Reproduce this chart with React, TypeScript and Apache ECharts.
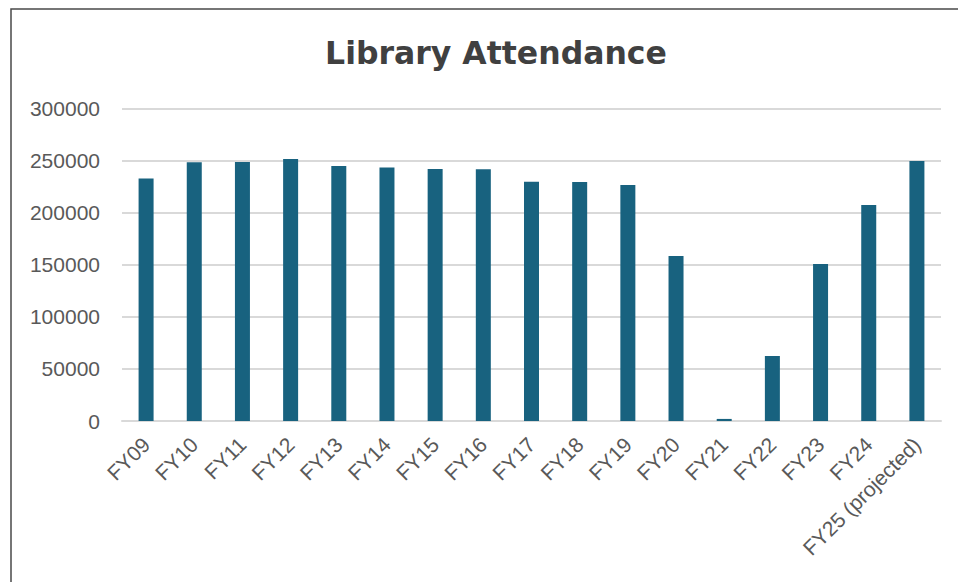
import React, { useEffect, useRef } from "react";
import * as echarts from "echarts";

const categories = [
  "FY09", "FY10", "FY11", "FY12", "FY13", "FY14", "FY15", "FY16", "FY17",
  "FY18", "FY19", "FY20", "FY21", "FY22", "FY23", "FY24", "FY25 (projected)",
];
const attendance = [
  233000, 248500, 248800, 251700, 245000, 243400, 242100, 241800, 229900,
  229600, 226700, 158500, 2000, 62400, 150800, 207500, 249800,
];
const yTicks = [0, 50000, 100000, 150000, 200000, 250000, 300000];

export default function App() {
  const ref = useRef<HTMLDivElement>(null);
  useEffect(() => {
    if (!ref.current) return;
    const chart = echarts.init(ref.current, null, { renderer: "svg" });
    chart.setOption({
      animation: false,
      backgroundColor: "#ffffff",
      title: {
        text: "Library Attendance",
        left: 491,
        textAlign: "center",
        top: 32,
        textStyle: {
          fontFamily: "DejaVu Sans",
          fontWeight: "bold",
          fontSize: 31.5,
          color: "#404040",
        },
      },
      graphic: [
        {
          type: "rect",
          shape: { x: 11, y: 9, width: 1200, height: 1200 },
          style: { fill: "none", stroke: "#4a4a4a", lineWidth: 1.5 },
          silent: true,
        },
      ],
      grid: { left: 122, right: 17, top: 108.7, bottom: 161, containLabel: false },
      xAxis: {
        type: "category",
        data: categories,
        axisLine: { show: true, lineStyle: { color: "#d9d9d9", width: 2 } },
        axisTick: { show: false },
        axisLabel: {
          rotate: 45,
          interval: 0,
          margin: 20,
          fontFamily: "Liberation Sans",
          fontSize: 21,
          color: "#595959",
        },
      },
      yAxis: {
        type: "value",
        min: yTicks[0],
        max: yTicks[yTicks.length - 1],
        interval: 50000,
        axisLine: { show: false },
        axisTick: { show: false },
        splitLine: { lineStyle: { color: "#d9d9d9", width: 2 } },
        axisLabel: {
          margin: 22,
          fontFamily: "Liberation Sans",
          fontSize: 21,
          color: "#595959",
          formatter: (v: number) => String(v),
        },
      },
      series: [
        {
          type: "bar",
          data: attendance,
          barWidth: 15,
          itemStyle: { color: "#18627f" },
        },
      ],
    });
    return () => chart.dispose();
  }, []);
  return (
    <div
      ref={ref}
      style={{ position: "fixed", left: 0, top: 0, width: 958, height: 582 }}
    />
  );
}
